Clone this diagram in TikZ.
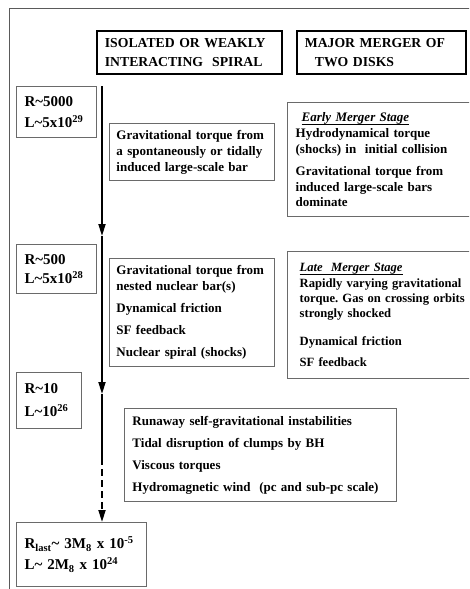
\documentclass[tikz,border=0pt]{standalone}
\usepackage{fontspec}
\setmainfont{Liberation Serif}
\usepackage{tikz}
\usetikzlibrary{arrows.meta}
\frenchspacing
\definecolor{frameink}{HTML}{5A5A5A}
\definecolor{boxink}{HTML}{6A6A6A}
\newcommand{\stagetitle}[1]{\setbox0\hbox{\textit{#1}}\rlap{\rule[-3pt]{\wd0}{0.8pt}}\box0}
\tikzset{
  headbox/.style ={draw=black,line width=1.8pt,anchor=north west,align=left,
                   inner xsep=8pt,font=\bfseries\fontsize{13.7}{16}\selectfont},
  radbox/.style  ={draw=boxink,line width=1pt,anchor=north west,align=left,
                   inner xsep=8pt,font=\bfseries\fontsize{15}{18}\selectfont},
  mechbox/.style ={draw=boxink,line width=0.9pt,anchor=north west,align=left,
                   inner xsep=7pt,font=\bfseries\fontsize{13}{16}\selectfont},
  mergebox/.style={draw=boxink,line width=1.3pt,anchor=north west,align=left,
                   inner xsep=8pt,font=\bfseries\fontsize{13}{15.5}\selectfont},
  flow/.style    ={-{Triangle[length=12pt,width=7pt]},line width=1.8pt,draw=black},
  dashflow/.style={flow,dash pattern=on 7pt off 4pt}
}

\begin{document}
\begin{tikzpicture}[x=1pt,y=-1pt]
    \useasboundingbox (0,0) rectangle (469,589);
    \clip (0,0) rectangle (469,589);
    \draw[frameink,line width=1pt] (9,600) -- (9,8) -- (480,8);
    % column heads
    \node[headbox,minimum width=185,minimum height=43,text width=169] (head1) at (96,30)
      {ISOLATED OR WEAKLY\\[3pt]INTERACTING\ \ SPIRAL};
    \node[headbox,minimum width=169,minimum height=43,text width=153] (head2) at (296,30)
      {MAJOR MERGER OF\\[3pt]\hspace*{10pt}TWO DISKS};
    % radius / angular momentum
    \node[radbox,minimum width=80,minimum height=51,text width=64] (r1) at (16,86)
      {R\textasciitilde 5000\\[3.5pt]L\textasciitilde 5x10\textsuperscript{29}};
    \node[radbox,minimum width=80,minimum height=49,text width=64] (r2) at (16,244)
      {R\textasciitilde 500\\[1pt]L\textasciitilde 5x10\textsuperscript{28}};
    \node[radbox,minimum width=65,minimum height=56,text width=49] (r3) at (16,372)
      {R\textasciitilde 10\\[5pt]L\textasciitilde 10\textsuperscript{26}};
    \node[radbox,minimum width=130,minimum height=64,text width=114] (rlast) at (16,522)
      {R\textsubscript{last}\textasciitilde{} 3M\textsubscript{8} x 10\textsuperscript{-5}\\[3pt]
       L\textasciitilde{} 2M\textsubscript{8} x 10\textsuperscript{24}};
    % isolated spiral
    \node[mechbox,minimum width=165,minimum height=57,text width=151] (barA) at (109,123)
      {Gravitational torque from\\a spontaneously or tidally\\induced large-scale bar};
    \node[mechbox,minimum width=165,minimum height=108,text width=151] (barB) at (109,258)
      {Gravitational torque from\\nested nuclear bar(s)\\[6pt]Dynamical friction\\[6pt]
       SF feedback\\[6pt]Nuclear spiral (shocks)};
    \node[mechbox,minimum width=272,minimum height=93,text width=256,
          font=\bfseries\fontsize{13}{22}\selectfont] (inner) at (124,408)
      {Runaway self-gravitational instabilities\\Tidal disruption of clumps by BH\\
       Viscous torques\\Hydromagnetic wind\ \ (pc and sub-pc scale)};
    % major merger
    \node[mergebox,minimum width=210,minimum height=114,text width=194] (early) at (287,102)
      {\hspace*{6pt}\stagetitle{Early Merger Stage}\\[1pt]Hydrodynamical torque\\
       (shocks) in\ \ initial collision\\[7pt]Gravitational torque from\\
       induced large-scale bars\\dominate};
    \node[mergebox,inner xsep=12pt,minimum width=210,minimum height=127,text width=186,
          font=\bfseries\fontsize{12.6}{15}\selectfont] (late) at (287,251)
      {\stagetitle{Late\ \ Merger Stage}\\[1pt]Rapidly varying gravitational\\
       torque. Gas on crossing orbits\\strongly shocked\\[13pt]Dynamical friction\\[6pt]
       SF feedback\\[4pt]};
    % radial inflow
    \coordinate (top) at (102,86);
    \coordinate (m1) at (102,236);
    \coordinate (m2) at (102,394);
    \coordinate (m3) at (102,458);
    \draw[flow] (top) -- (m1);
    \draw[flow] (m1) -- (m2);
    \draw[line width=1.8pt] (m2) -- (m3);
    \draw[dashflow] (m3) -- (top |- rlast.north);
\end{tikzpicture}
\end{document}
